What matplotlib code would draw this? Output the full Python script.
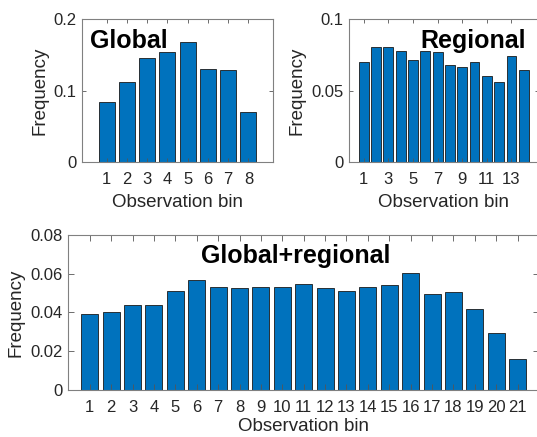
import matplotlib
matplotlib.use("Agg")
import matplotlib.pyplot as plt
import numpy as np
from matplotlib.ticker import FuncFormatter

# values
global_freq = [0.084, 0.113, 0.146, 0.154, 0.168, 0.130, 0.129, 0.070]
regional_freq = [0.0702, 0.0804, 0.0804, 0.0776, 0.0718, 0.0776, 0.0769,
                 0.0678, 0.0665, 0.0702, 0.0601, 0.0565, 0.0746, 0.0644]
combined_freq = [0.0393, 0.0405, 0.0438, 0.0438, 0.0512, 0.0567, 0.0534,
                 0.0524, 0.0534, 0.0534, 0.0545, 0.0524, 0.0512, 0.0533,
                 0.0540, 0.0605, 0.0497, 0.0507, 0.0417, 0.0293, 0.0159]

global_yticks = [0, 0.1, 0.2]
regional_yticks = [0, 0.05, 0.1]
combined_yticks = [0, 0.02, 0.04, 0.06, 0.08]
regional_xticks = [1, 3, 5, 7, 9, 11, 13]

BAR_COLOR = "#0072BD"
INK = "#262626"

plt.rcParams["font.family"] = ["Liberation Sans", "DejaVu Sans"]


def g_fmt(v, _pos):
    return f"{v:g}"


def style_axes(ax, tick_len, xlabelpad=5):
    for s in ax.spines.values():
        s.set_color("#808080")
        s.set_linewidth(0.8)
    ax.tick_params(direction="in", top=True, right=True, length=tick_len,
                   width=0.6, color="#555555", labelsize=12, labelcolor=INK)
    ax.tick_params(axis="x", pad=7)
    ax.tick_params(axis="y", pad=4)
    ax.yaxis.set_major_formatter(FuncFormatter(g_fmt))
    ax.set_xlabel("Observation bin", fontsize=13.5, color=INK,
                  labelpad=xlabelpad)
    ax.set_ylabel("Frequency", fontsize=13.5, color=INK, labelpad=4)


def bars(ax, values):
    x = np.arange(1, len(values) + 1)
    ax.bar(x, values, width=0.8, color=BAR_COLOR, edgecolor="#1a1a1a",
           linewidth=0.6)
    return x


fig = plt.figure(figsize=(5.37, 4.37), dpi=100)

ax1 = fig.add_axes([0.1533, 0.6286, 0.3545, 0.3272])
x1 = bars(ax1, global_freq)
ax1.set_xlim(-0.2, len(global_freq) + 1.2)
ax1.set_ylim(0, 0.2)
ax1.set_xticks(x1)
ax1.set_yticks(global_yticks)
style_axes(ax1, 3)
ax1.text(0.04, 0.80, "Global", transform=ax1.transAxes, fontsize=18,
         fontweight="bold", ha="left", va="baseline", color="black")

ax2 = fig.add_axes([0.650, 0.6286, 0.3528, 0.3272])
bars(ax2, regional_freq)
ax2.set_xlim(-0.2, len(regional_freq) + 1.2)
ax2.set_ylim(0, 0.1)
ax2.set_xticks(regional_xticks)
ax2.set_yticks(regional_yticks)
style_axes(ax2, 3)
ax2.text(0.934, 0.80, "Regional", transform=ax2.transAxes, fontsize=18,
         fontweight="bold", ha="right", va="baseline", color="black")

ax3 = fig.add_axes([0.1272, 0.1076, 0.8767, 0.3547])
x3 = bars(ax3, combined_freq)
ax3.set_xlim(0, len(combined_freq) + 1)
ax3.set_ylim(0, 0.08)
ax3.set_xticks(x3)
ax3.set_yticks(combined_yticks)
style_axes(ax3, 4, xlabelpad=2.5)
ax3.text(0.484, 0.817, "Global+regional", transform=ax3.transAxes,
         fontsize=18, fontweight="bold", ha="center", va="baseline",
         color="black")

fig.savefig("out.png", dpi=100)
